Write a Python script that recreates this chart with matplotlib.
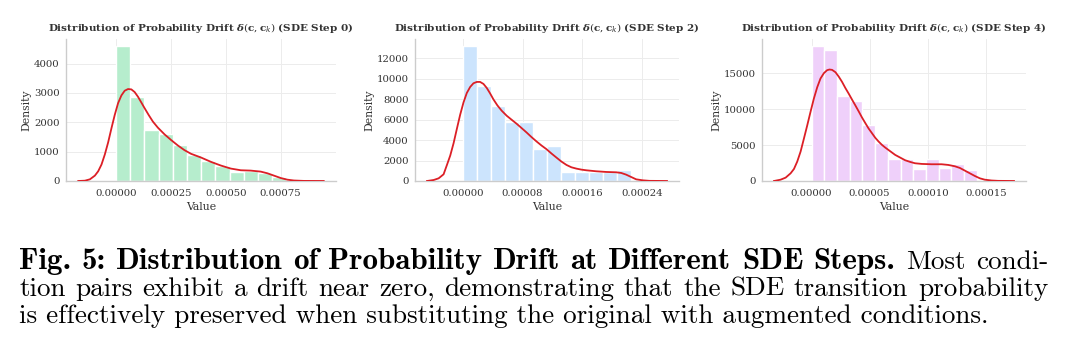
import numpy as np
import matplotlib
matplotlib.use("Agg")
import matplotlib.pyplot as plt
from matplotlib.ticker import FormatStrFormatter

# histogram densities (equal-width bins between lo and hi)
step0_lo, step0_hi = 0.0, 0.000776
step0_density = [4606, 2846, 1737, 1600, 1223, 880, 674, 500, 290, 340, 265, 125]
step2_lo, step2_hi = 0.0, 0.000225
step2_density = [13224, 9329, 7300, 5728, 5728, 3110, 3431, 912, 912, 895, 895, 1078]
step4_lo, step4_hi = 0.0, 0.0001423
step4_density = [18826, 18173, 11883, 11184, 7782, 5290, 3072, 3072, 1630, 3072, 1862, 2374, 1550]

# kde curves
step0_kde_x = [-0.0001725, -0.0001422, -0.0001195, -0.0000968, -0.0000817, -0.0000666,
               -0.0000514, -0.0000363, -0.0000212, -0.0000061, 0.0000091, 0.0000242,
               0.0000393, 0.0000545, 0.0000696, 0.0000847, 0.0000999, 0.0001150, 0.0001301,
               0.0001483, 0.0001679, 0.0001906, 0.0002209, 0.0002512, 0.0002814, 0.0003117,
               0.0003419, 0.0003873, 0.0004327, 0.0004781, 0.0005235, 0.0005689, 0.0006143,
               0.0006597, 0.0006899, 0.0007202, 0.0007504, 0.0007807, 0.0008110, 0.0008564,
               0.0009471]
step0_kde_y = [0, 11, 57, 183, 331, 560, 903, 1314, 1795, 2252, 2652, 2915, 3075, 3132,
               3120, 3029, 2869, 2675, 2480, 2252, 2023, 1817, 1589, 1394, 1212, 1052, 926,
               800, 652, 526, 423, 366, 354, 320, 263, 183, 103, 46, 17, 3, 0]

step2_kde_x = [-0.0000480, -0.0000391, -0.0000324, -0.0000258, -0.0000213, -0.0000169,
               -0.0000124, -0.0000080, -0.0000036, 0.0000009, 0.0000053, 0.0000098,
               0.0000142, 0.0000187, 0.0000231, 0.0000276, 0.0000320, 0.0000364, 0.0000409,
               0.0000462, 0.0000520, 0.0000587, 0.0000653, 0.0000720, 0.0000787, 0.0000853,
               0.0000920, 0.0000987, 0.0001053, 0.0001120, 0.0001187, 0.0001253, 0.0001320,
               0.0001387, 0.0001453, 0.0001520, 0.0001587, 0.0001653, 0.0001787, 0.0001920,
               0.0002053, 0.0002120, 0.0002186, 0.0002253, 0.0002320, 0.0002409, 0.0002498,
               0.0002733]
step2_kde_y = [0, 98, 262, 655, 1571, 2487, 3698, 5106, 6481, 7692, 8608, 9197, 9557,
               9688, 9688, 9492, 9099, 8575, 7986, 7397, 6873, 6382, 5990, 5597, 5171, 4746,
               4288, 3863, 3470, 3109, 2684, 2291, 1898, 1571, 1342, 1211, 1113, 1047, 949,
               884, 851, 786, 622, 393, 164, 65, 15, 0]

step4_kde_x = [-0.0000323, -0.0000266, -0.0000223, -0.0000180, -0.0000151, -0.0000123,
               -0.0000094, -0.0000066, -0.0000037, -0.0000009, 0.0000020, 0.0000049,
               0.0000077, 0.0000106, 0.0000134, 0.0000154, 0.0000177, 0.0000206, 0.0000234,
               0.0000263, 0.0000291, 0.0000320, 0.0000349, 0.0000377, 0.0000406, 0.0000434,
               0.0000463, 0.0000491, 0.0000520, 0.0000549, 0.0000577, 0.0000606, 0.0000634,
               0.0000677, 0.0000720, 0.0000763, 0.0000806, 0.0000849, 0.0000891, 0.0000949,
               0.0001034, 0.0001120, 0.0001177, 0.0001234, 0.0001277, 0.0001320, 0.0001363,
               0.0001406, 0.0001449, 0.0001491, 0.0001549, 0.0001606, 0.0001743]
step4_kde_y = [0, 186, 466, 1072, 1678, 2703, 4101, 5872, 7736, 9600, 11464, 13048, 14260,
               15005, 15425, 15518, 15471, 15145, 14539, 13794, 12955, 12163, 11324, 10532,
               9693, 8854, 8062, 7316, 6664, 6011, 5499, 5033, 4660, 4147, 3635, 3262, 2889,
               2656, 2470, 2377, 2330, 2330, 2237, 2050, 1817, 1445, 1072, 699, 373, 186, 70,
               20, 0]

step0_xticks = [0.0, 0.00025, 0.0005, 0.00075]
step2_xticks = [0.0, 0.00008, 0.00016, 0.00024]
step4_xticks = [0.0, 0.00005, 0.00010, 0.00015]
step0_yticks = [0, 1000, 2000, 3000, 4000]
step2_yticks = [0, 2000, 4000, 6000, 8000, 10000, 12000]
step4_yticks = [0, 5000, 10000, 15000]

steps = [0, 2, 4]
bar_colors = ['#b6edcd', '#cce4fd', '#efd0fa']

panels = [
    (step0_lo, step0_hi, step0_density, step0_kde_x, step0_kde_y, step0_xticks, step0_yticks),
    (step2_lo, step2_hi, step2_density, step2_kde_x, step2_kde_y, step2_xticks, step2_yticks),
    (step4_lo, step4_hi, step4_density, step4_kde_x, step4_kde_y, step4_xticks, step4_yticks),
]
ax_rects = [
    [66 / 1069, 174 / 355, 270 / 1069, 142 / 355],
    [415 / 1069, 174 / 355, 264 / 1069, 142 / 355],
    [762 / 1069, 174 / 355, 264 / 1069, 142 / 355],
]

plt.rcParams['font.family'] = 'DejaVu Serif'
plt.rcParams['mathtext.fontset'] = 'dejavuserif'

fig = plt.figure(figsize=(10.69, 3.55), dpi=100)

for i, (lo, hi, dens, kx, ky, xt, yt) in enumerate(panels):
    ax = fig.add_axes(ax_rects[i])
    edges = np.linspace(lo, hi, len(dens) + 1)
    ax.bar(edges[:-1], dens, width=np.diff(edges), align='edge',
           color=bar_colors[i], edgecolor='white', linewidth=1.0, zorder=2)
    ax.plot(kx, ky, color='#dc1f26', linewidth=1.3, zorder=3, solid_joinstyle='round')
    ax.set_xticks(xt)
    ax.set_yticks(yt)
    ax.xaxis.set_major_formatter(FormatStrFormatter('%.5f'))
    ax.margins(x=0.05, y=0.05)
    ax.set_ylim(0, max(dens) * 1.05)
    ax.grid(True, color='#ececec', linewidth=0.7, zorder=0)
    ax.set_axisbelow(True)
    for s in ['top', 'right']:
        ax.spines[s].set_visible(False)
    for s in ['left', 'bottom']:
        ax.spines[s].set_color('#cccccc')
        ax.spines[s].set_linewidth(1.0)
    ax.tick_params(length=0, labelsize=7.3, colors='#333333')
    ax.tick_params(axis='x', pad=5.5)
    ax.tick_params(axis='y', pad=4.5)
    ax.set_xlabel('Value', fontsize=7.8, color='#333333', labelpad=3)
    ax.set_ylabel('Density', fontsize=7.8, color='#333333', labelpad=2)
    ax.set_title(r'Distribution of Probability Drift $\boldsymbol{\delta}(\mathbf{c},\mathbf{c}_k)$'
                 + ' (SDE Step %d)' % steps[i],
                 fontsize=7.5, fontweight='bold', color='#333333', pad=6)

# caption, laid out word by word so the first two lines are justified
bold_part = "Fig. 5: Distribution of Probability Drift at Different SDE Steps."
cap_lines = [
    [(bold_part, 'cmb10'), ("Most condi-", 'cmr10')],
    [("tion pairs exhibit a drift near zero, demonstrating that the SDE transition probability", 'cmr10')],
    [("is effectively preserved when substituting the original with augmented conditions.", 'cmr10')],
]
cap_base = [269, 296, 322.7]
cap_left, cap_right = 19, 1048

renderer = fig.canvas.get_renderer()
probe = fig.text(0, 0, cap_lines[2][0][0], fontfamily='cmr10', fontsize=10)
w10 = probe.get_window_extent(renderer).width
probe.remove()
cap_fs = 10 * 975 / w10
probe = fig.text(0, 0, bold_part, fontfamily='cmb10', fontsize=10)
wb10 = probe.get_window_extent(renderer).width
probe.remove()
bold_fs = 10 * 872 / wb10
sizes = {'cmr10': cap_fs, 'cmb10': bold_fs}

for li, segs in enumerate(cap_lines):
    y = 1 - cap_base[li] / 355
    words = []
    for txt, fam in segs:
        for w in txt.split(' '):
            words.append((w, fam))
    if li == len(cap_lines) - 1:
        fig.text(cap_left / 1069, y, ' '.join(w for w, _ in words), fontfamily='cmr10',
                 fontsize=cap_fs, va='baseline', ha='left', color='black')
        continue
    arts = [fig.text(0, y, w, fontfamily=f, fontsize=sizes[f], va='baseline', ha='left',
                     color='black') for w, f in words]
    widths = [a.get_window_extent(renderer).width for a in arts]
    gap = (cap_right - cap_left - sum(widths)) / (len(arts) - 1)
    x = cap_left
    for a, w in zip(arts, widths):
        a.set_x(x / 1069)
        x += w + gap

fig.savefig('out.png', dpi=100)
